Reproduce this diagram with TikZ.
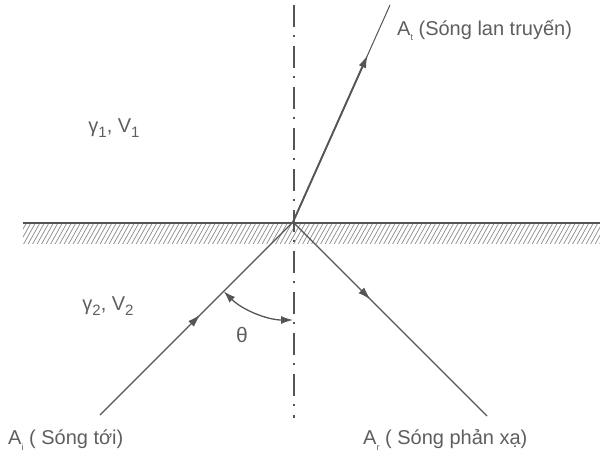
\documentclass[tikz,border=0pt]{standalone}
\usepackage{fontspec}
\setmainfont{Liberation Sans}
\usetikzlibrary{arrows.meta,decorations.markings,calc}
\definecolor{ink}{HTML}{555555}
\definecolor{txt}{HTML}{5E5E5E}
\definecolor{hatch}{HTML}{8A8A8A}
\newcommand\lsub[1]{\raisebox{-0.45ex}{\fontsize{15}{15}\selectfont #1}}
\newcommand\tsub[1]{\raisebox{-0.5ex}{\fontsize{9}{9}\selectfont #1}}
\begin{document}
\begin{tikzpicture}[x=1pt,y=-1pt,
  ray/.style={draw=ink,line width=1.3pt},
  tip/.style={-{Latex[length=13pt,width=8pt]}},
  midarrow/.style={postaction={decorate},decoration={markings,mark=at position #1 with {\arrow{Latex[length=13pt,width=8pt]}}}},
  lbl/.style={text=txt,font=\fontsize{20}{22}\selectfont,inner sep=0pt},
  axis/.style={draw=ink,line width=1.8pt,dash pattern=on 22pt off 8pt on 2pt off 9pt},
]
\useasboundingbox (0,0) rectangle (600,457);
% key points
\coordinate (O) at (293,222);
\coordinate (I) at (100,415);
\coordinate (R) at (487,416);
\coordinate (T) at (390,5);
\coordinate (NT) at (294,5);
\coordinate (NB) at (294,418);
\coordinate (SL) at (23,223);
\coordinate (SR) at (600,223);
% hatched band
\begin{scope}
  \clip (23,223) rectangle (600,244);
  \foreach \x in {0,4.5,...,620} {
    \draw[hatch,line width=0.7pt] (\x,246) -- (\x+14,221);
  }
\end{scope}
% interface
\draw[draw=ink,line width=1.8pt] (SL) -- (SR);
% normal
\draw[axis] (NT) -- (NB);
% rays
\draw[ray,midarrow=0.52] (I) -- (O);
\draw[ray,midarrow=0.40] (O) -- (R);
\draw[draw=ink,line width=1pt] (O) -- (T);
\draw[ray,line width=1.9pt,tip] (O) -- ($(O)!0.77!(T)$);
% angle
\draw[draw=ink,line width=1.3pt,{Latex[length=12pt,width=8pt]}-{Latex[length=12pt,width=8pt]}]
  ($(O)+(135:98)$) arc[start angle=135,end angle=90,radius=98];
% labels
\node[lbl,font=\fontsize{21}{24}\selectfont] (th) at (242,335) {θ};
\node[lbl] (m1) at (114,128) {γ\lsub{1}, V\lsub{1}};
\node[lbl] (m2) at (108,306) {γ\lsub{2}, V\lsub{2}};
\node[lbl,anchor=west] (lt) at (397,30) {A\tsub{t} (Sóng lan truyến)};
\node[lbl,anchor=west] (li) at (8,440) {A\tsub{i} ( Sóng tới)};
\node[lbl,anchor=west] (lr) at (363,440) {A\tsub{r} ( Sóng phản xạ)};
\end{tikzpicture}
\end{document}
